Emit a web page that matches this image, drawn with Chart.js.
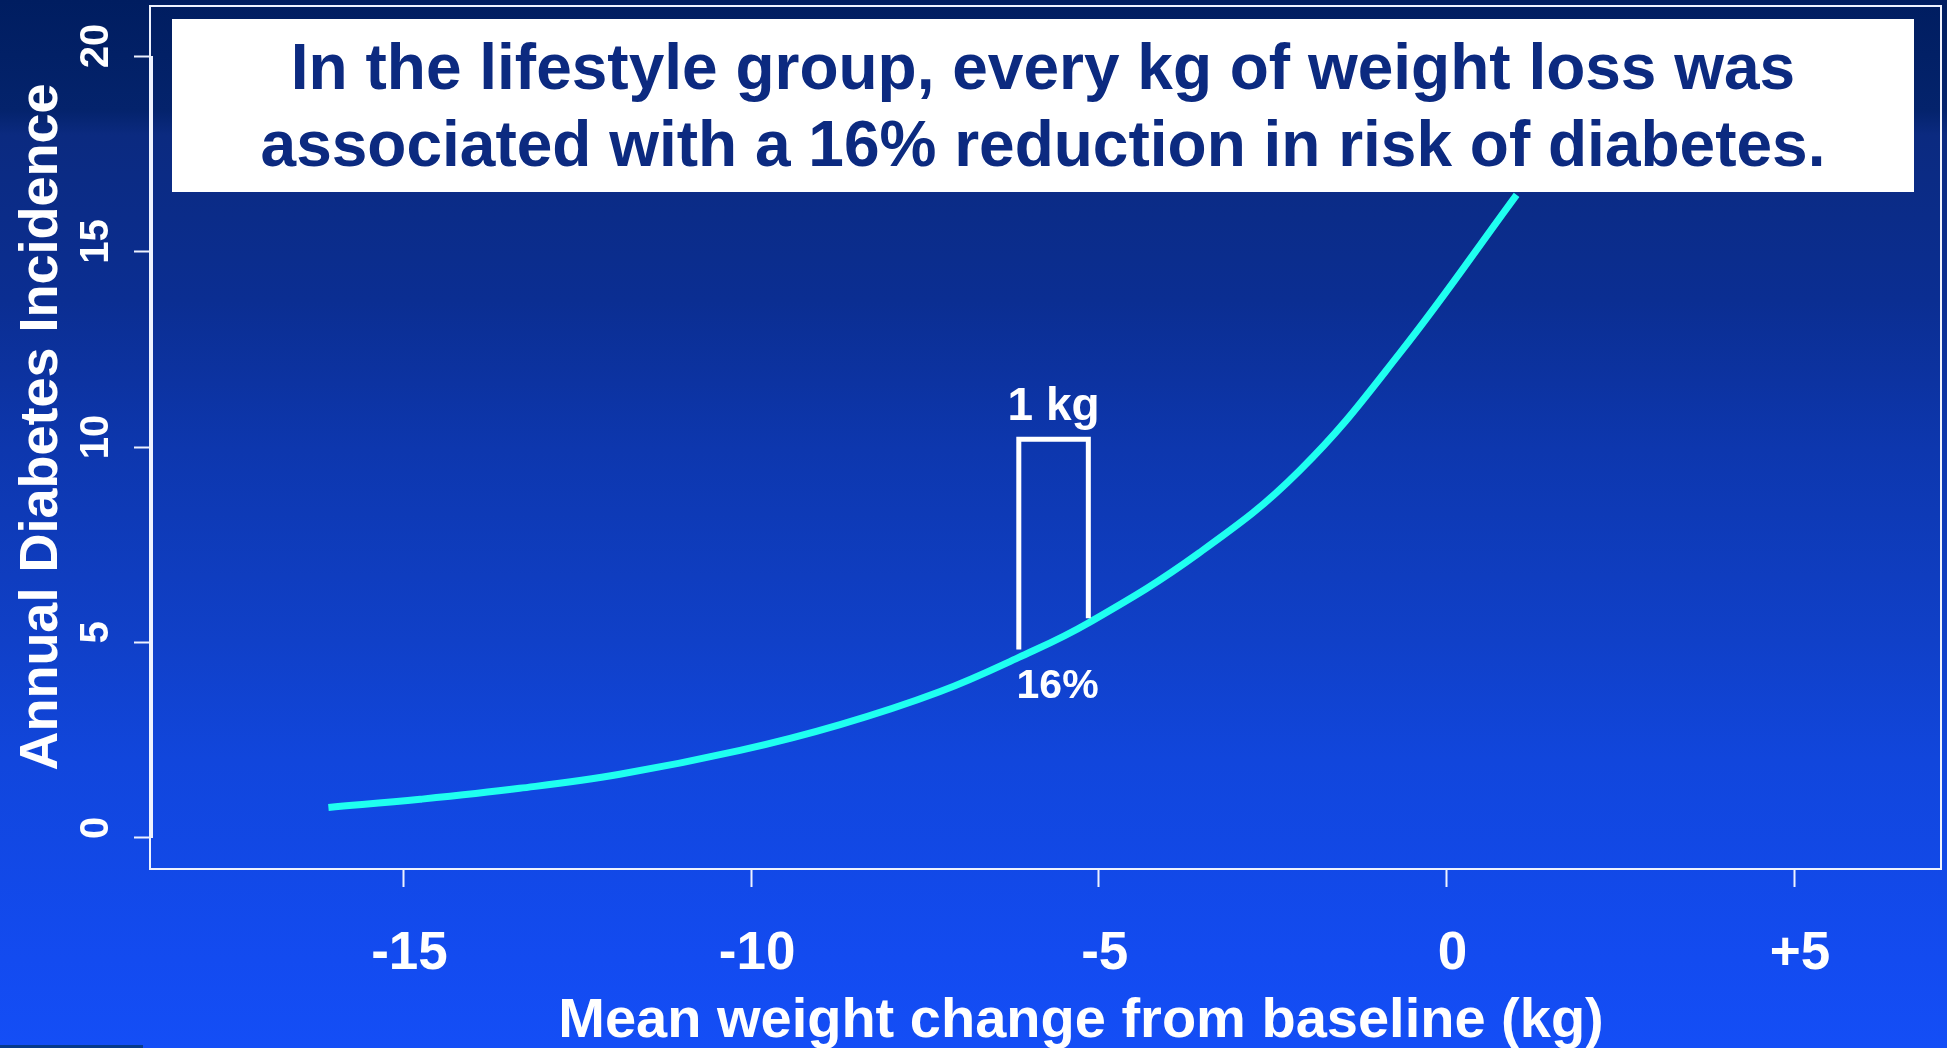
<!DOCTYPE html>
<html>
<head>
<meta charset="utf-8">
<script src="https://cdn.jsdelivr.net/npm/chart.js@4/dist/chart.umd.min.js"></script>
<style>
  html, body { margin: 0; padding: 0; }
  body {
    width: 1947px; height: 1048px; overflow: hidden; position: relative;
    background: linear-gradient(to bottom,
      #001d60 0px, #04236c 110px, #0b2a80 135px, #0b2e92 300px,
      #0d37ae 450px, #1040c8 640px, #1146dc 760px, #134bf0 960px, #144ef6 1048px);
    font-family: 'Liberation Sans', Arial, Helvetica, sans-serif;
  }
  #chart { position: absolute; left: 0; top: 0; }
  #headline {
    position: absolute; left: 172px; top: 19px; width: 1742px; height: 173px;
    box-sizing: border-box; padding-top: 10px;
    background: #ffffff; color: #0c2a80;
    font-weight: bold; font-size: 64px; line-height: 77px; text-align: center;
    white-space: nowrap;
  }
  #footstrip {
    position: absolute; left: 0; top: 1045px; width: 143px; height: 3px; background: #063a8c;
  }
</style>
</head>
<body>
<canvas id="chart" width="1947" height="1048"></canvas>
<div id="headline">In the lifestyle group, every kg of weight loss was<br>associated with a 16% reduction in risk of diabetes.</div>
<div id="footstrip"></div>
<script>
// Mean weight change from baseline (kg) and annual diabetes incidence along the fitted curve
const weightChange = [-16.08, -14.76, -13.33, -11.89, -10.16, -8.72, -7.29, -6.15, -5.15, -3.55, -2.11, -0.67, 1.01];
const incidence    = [0.78, 0.99, 1.27, 1.63, 2.24, 2.90, 3.74, 4.62, 5.50, 7.30, 9.40, 12.40, 16.45];

// Axis ticks and their labels
const xTickValues = [-15, -10, -5, 0, 5];
const xTickLabels = ['-15', '-10', '-5', '0', '+5'];
const yTickValues = [0, 5, 10, 15, 20];
const yTickLabels = ['0', '5', '10', '15', '20'];

// The 1 kg bracket: its two sides, the top bar and where each side stops
const bracketX = [-6.15, -5.15];
const bracketTop = 10.2;
const bracketFoot = [4.82, 5.62];
const bracketLabel = '1 kg';
const reductionLabel = '16%';

const xTitle = 'Mean weight change from baseline (kg)';
const yTitle = 'Annual Diabetes Incidence';

const FONT = "'Liberation Sans', Arial, Helvetica, sans-serif";
const WHITE = '#ffffff';

const slideDecor = {
  id: 'slideDecor',
  afterDatasetsDraw(chart) {
    const { ctx, chartArea: a, scales: { x, y } } = chart;
    ctx.save();

    // plot frame
    ctx.strokeStyle = '#eef2ff';
    ctx.lineWidth = 2;
    ctx.strokeRect(a.left, a.top, a.right - a.left, a.bottom - a.top);

    // y axis line over the tick range
    ctx.beginPath();
    ctx.moveTo(a.left + 2, y.getPixelForValue(yTickValues[0]));
    ctx.lineTo(a.left + 2, y.getPixelForValue(yTickValues[yTickValues.length - 1]));
    ctx.stroke();

    ctx.fillStyle = WHITE;

    // y tick labels, written along the axis
    ctx.font = 'bold 40px ' + FONT;
    ctx.textAlign = 'center';
    ctx.textBaseline = 'alphabetic';
    yTickValues.forEach((v, i) => {
      ctx.save();
      ctx.translate(108, y.getPixelForValue(v) - 10);
      ctx.rotate(-Math.PI / 2);
      ctx.fillText(yTickLabels[i], 0, 0);
      ctx.restore();
    });

    // x tick labels
    ctx.font = 'bold 53px ' + FONT;
    xTickValues.forEach((v, i) => {
      ctx.fillText(xTickLabels[i], x.getPixelForValue(v) + 6, 969);
    });

    // axis titles
    ctx.font = 'bold 56px ' + FONT;
    ctx.fillText(xTitle, 1081, 1037);
    ctx.save();
    ctx.translate(57, 427);
    ctx.rotate(-Math.PI / 2);
    ctx.font = 'bold 54px ' + FONT;
    ctx.fillText(yTitle, 0, 0);
    ctx.restore();

    // bracket marking one kilogram
    const bx0 = x.getPixelForValue(bracketX[0]);
    const bx1 = x.getPixelForValue(bracketX[1]);
    const by = y.getPixelForValue(bracketTop);
    ctx.strokeStyle = WHITE;
    ctx.lineWidth = 5;
    ctx.lineJoin = 'miter';
    ctx.beginPath();
    ctx.moveTo(bx0, y.getPixelForValue(bracketFoot[0]));
    ctx.lineTo(bx0, by);
    ctx.lineTo(bx1, by);
    ctx.lineTo(bx1, y.getPixelForValue(bracketFoot[1]));
    ctx.stroke();

    const bc = (bx0 + bx1) / 2;
    ctx.font = 'bold 46px ' + FONT;
    ctx.fillText(bracketLabel, bc, by - 19);
    ctx.font = 'bold 41px ' + FONT;
    ctx.fillText(reductionLabel, bc + 4, 698);

    ctx.restore();
  }
};

new Chart(document.getElementById('chart'), {
  type: 'line',
  data: {
    datasets: [{
      data: weightChange.map((w, i) => ({ x: w, y: incidence[i] })),
      borderColor: '#1ffff0',
      borderWidth: 7,
      pointRadius: 0,
      fill: false,
      tension: 0.4,
      borderCapStyle: 'butt'
    }]
  },
  options: {
    responsive: false,
    animation: false,
    events: [],
    layout: { padding: { left: 0, top: 6, right: 6, bottom: 0 } },
    plugins: { legend: { display: false }, tooltip: { enabled: false }, title: { display: false } },
    scales: {
      x: {
        type: 'linear',
        min: -18.646,
        max: 7.114,
        afterBuildTicks: s => { s.ticks = xTickValues.map(v => ({ value: v })); },
        afterFit: s => { s.height = 179; },
        grid: { display: true, drawOnChartArea: false, drawTicks: true, tickLength: 18, tickWidth: 2, tickColor: '#eef2ff' },
        border: { display: false },
        ticks: { display: false }
      },
      y: {
        type: 'linear',
        min: -0.793,
        max: 21.279,
        afterBuildTicks: s => { s.ticks = yTickValues.map(v => ({ value: v })); },
        afterFit: s => { s.width = 150; },
        grid: { display: true, drawOnChartArea: false, drawTicks: true, tickLength: 16, tickWidth: 2, tickColor: '#eef2ff' },
        border: { display: false },
        ticks: { display: false }
      }
    }
  },
  plugins: [slideDecor]
});
</script>
</body>
</html>
